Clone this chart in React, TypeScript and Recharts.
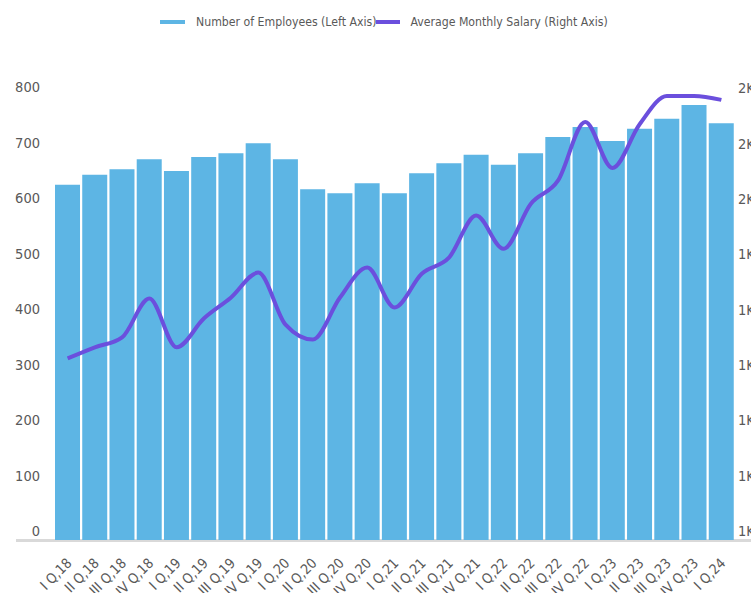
import React from 'react';
import { ComposedChart, Bar, Line, XAxis, YAxis, Legend } from 'recharts';

const quarters = [
  'I Q,18', 'II Q,18', 'III Q,18', 'IV Q,18',
  'I Q,19', 'II Q,19', 'III Q,19', 'IV Q,19',
  'I Q,20', 'II Q,20', 'III Q,20', 'IV Q,20',
  'I Q,21', 'II Q,21', 'III Q,21', 'IV Q,21',
  'I Q,22', 'II Q,22', 'III Q,22', 'IV Q,22',
  'I Q,23', 'II Q,23', 'III Q,23', 'IV Q,23',
  'I Q,24',
];

const employees = [
  640, 658, 668, 686, 665, 690, 697, 715,
  686, 632, 625, 643, 625, 661, 679, 694,
  676, 697, 726, 744, 719, 741, 759, 784, 751,
];

const salary = [
  1228, 1248, 1266, 1336, 1248, 1300, 1338, 1383,
  1289, 1262, 1338, 1392, 1320, 1381, 1410, 1486,
  1426, 1507, 1549, 1655, 1572, 1651, 1702, 1702, 1695,
];

const leftTicks = [0, 100, 200, 300, 400, 500, 600, 700, 800];
const rightTicks = [900, 1000, 1100, 1200, 1300, 1400, 1500, 1600, 1700];

const chartData = quarters.map((q, i) => ({ q, employees: employees[i], salary: salary[i] }));

const BAR = '#5db5e4';
const LINE = '#6b4fdd';
const TEXT = '#595959';
const FONT = '"DejaVu Sans Condensed", "Liberation Sans", sans-serif';

const LeftTick = (p: any) => (
  <text x={p.x} y={p.y - 9} textAnchor="end" dy="0.355em" fill={TEXT} fontSize={14.5} fontFamily={FONT} fontStretch="condensed">
    {p.payload.value}
  </text>
);

const RightTick = (p: any) => (
  <text x={p.x} y={p.y - 9} textAnchor="start" dy="0.355em" fill={TEXT} fontSize={14.5} fontFamily={FONT} fontStretch="condensed">
    {(p.payload.value / 1000).toFixed(0) + 'K'}
  </text>
);

const XTick = (p: any) => (
  <g transform={`translate(${p.x + 5},${p.y + 16})`}>
    <text transform="rotate(-45)" textAnchor="end" fill={TEXT} fontSize={14} fontFamily={FONT} fontStretch="condensed">
      {p.payload.value}
    </text>
  </g>
);

const LegendContent = () => (
  <div
    style={{
      display: 'flex',
      alignItems: 'center',
      marginLeft: 152,
      fontFamily: FONT,
      fontStretch: 'condensed',
      fontSize: 12.2,
      color: TEXT,
      whiteSpace: 'nowrap',
    }}
  >
    <span style={{ width: 25, height: 4, background: BAR, display: 'inline-block', marginRight: 11 }} />
    <span>Number of Employees (Left Axis)</span>
    <span style={{ width: 24, height: 4, background: LINE, display: 'inline-block', marginRight: 10 }} />
    <span>Average Monthly Salary (Right Axis)</span>
  </div>
);

export default function App() {
  return (
    <div style={{ position: 'relative', width: 751, height: 593, overflow: 'hidden' }}>
      <style>{'body { margin: 0; }'}</style>
      <div style={{ position: 'absolute', left: 8, top: 8 }}>
        <div style={{ position: 'absolute', left: 8, top: 531, width: 800, height: 3, background: '#d9d9d9' }} />
        <ComposedChart
          width={790}
          height={585}
          data={chartData}
          margin={{ top: 58, right: 13, bottom: 0, left: 0 }}
        >
          <Legend verticalAlign="top" height={30} content={<LegendContent />} wrapperStyle={{ top: 7, left: 0, width: 790 }} />
          <XAxis dataKey="q" interval={0} axisLine={false} tickLine={false} height={53} tick={<XTick />} />
          <YAxis
            yAxisId="left"
            width={46}
            domain={[0, 800]}
            ticks={leftTicks}
            axisLine={false}
            tickLine={false}
            tickSize={0}
            tickMargin={14}
            tick={<LeftTick />}
          />
          <YAxis
            yAxisId="right"
            orientation="right"
            width={50}
            domain={[900, 1700]}
            ticks={rightTicks}
            axisLine={false}
            tickLine={false}
            tickSize={0}
            tickMargin={3}
            tick={<RightTick />}
          />
          <Bar yAxisId="left" dataKey="employees" name="Number of Employees (Left Axis)" fill={BAR} barSize={25} isAnimationActive={false} />
          <Line
            yAxisId="right"
            type="monotone"
            dataKey="salary"
            name="Average Monthly Salary (Right Axis)"
            stroke={LINE}
            strokeWidth={4}
            dot={false}
            isAnimationActive={false}
          />
        </ComposedChart>
      </div>
    </div>
  );
}
